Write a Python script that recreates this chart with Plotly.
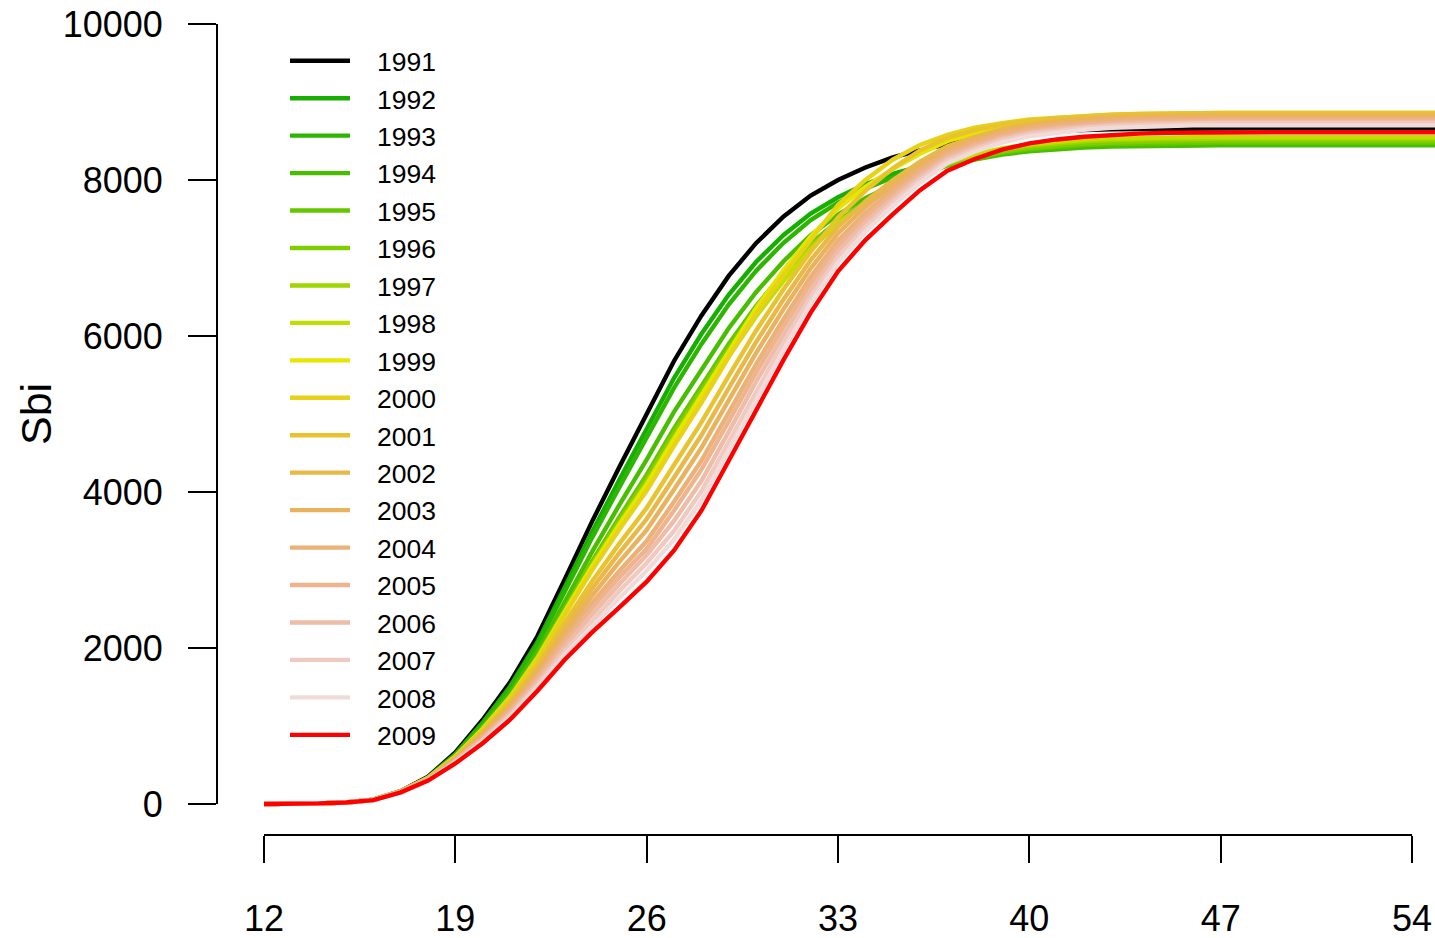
import plotly.graph_objects as go

weeks = [12, 13, 14, 15, 16, 17, 18, 19, 20, 21, 22, 23, 24, 25, 26, 27, 28, 29, 30, 31, 32, 33,
         34, 35, 36, 37, 38, 39, 40, 41, 42, 43, 44, 45, 46, 47, 48, 49, 50, 51, 52, 53, 54, 55]

years = ["1991", "1992", "1993", "1994", "1995", "1996", "1997", "1998", "1999", "2000",
         "2001", "2002", "2003", "2004", "2005", "2006", "2007", "2008", "2009"]

colors = ["#000000", "#16AE00", "#2DB600", "#47BE00", "#63C600", "#81CE00", "#A0D600", "#C2DE00",
          "#E6E600", "#E7D217", "#E8C32E", "#E9B846", "#EBB25E", "#ECB176", "#EDB48E", "#EEBCA7",
          "#F0C9C0", "#F1DBD9", "#FF0000"]

s1991 = [0, 2, 8, 20, 55, 165, 350, 660, 1080, 1560, 2150, 2880, 3620, 4320, 5000, 5680, 6260, 6770, 7190, 7530, 7800, 8000,
         8160, 8290, 8380, 8460, 8520, 8570, 8600, 8625, 8640, 8650, 8655, 8660, 8662, 8662, 8662, 8662, 8662, 8662, 8662, 8662, 8662, 8662]
s1992 = [0, 2, 8, 20, 54, 161, 340, 640, 1045, 1507, 2075, 2777, 3486, 4156, 4805, 5461, 6025, 6529, 6949, 7293, 7570, 7779,
         7945, 8080, 8176, 8261, 8323, 8375, 8406, 8432, 8447, 8458, 8463, 8468, 8470, 8470, 8470, 8470, 8470, 8470, 8470, 8470, 8470, 8470]
s1993 = [0, 2, 8, 20, 53, 160, 337, 632, 1028, 1481, 2038, 2722, 3412, 4063, 4692, 5335, 5895, 6403, 6835, 7192, 7486, 7710,
         7887, 8032, 8139, 8232, 8299, 8354, 8387, 8414, 8430, 8442, 8447, 8453, 8455, 8455, 8455, 8455, 8455, 8455, 8455, 8455, 8455, 8455]
s1994 = [0, 2, 8, 20, 53, 158, 331, 614, 990, 1420, 1948, 2590, 3233, 3835, 4415, 5027, 5576, 6100, 6561, 6956, 7292, 7558,
         7766, 7936, 8071, 8185, 8263, 8327, 8367, 8397, 8416, 8429, 8436, 8442, 8445, 8445, 8445, 8445, 8445, 8445, 8445, 8445, 8445, 8445]
s1995 = [0, 2, 8, 20, 52, 157, 328, 603, 965, 1379, 1889, 2501, 3111, 3678, 4223, 4815, 5358, 5896, 6384, 6808, 7180, 7479,
         7711, 7902, 8059, 8191, 8278, 8349, 8394, 8426, 8447, 8462, 8470, 8476, 8480, 8480, 8480, 8480, 8480, 8480, 8480, 8480, 8480, 8480]
s1996 = [0, 2, 8, 20, 52, 157, 327, 601, 959, 1369, 1873, 2477, 3078, 3635, 4170, 4756, 5298, 5841, 6337, 6771, 7153, 7464,
         7704, 7900, 8064, 8202, 8291, 8365, 8411, 8445, 8466, 8481, 8490, 8496, 8500, 8500, 8500, 8500, 8500, 8500, 8500, 8500, 8500, 8500]
s1997 = [0, 2, 8, 20, 52, 157, 327, 599, 953, 1360, 1859, 2456, 3048, 3596, 4121, 4702, 5244, 5793, 6297, 6742, 7136, 7457,
         7705, 7908, 8079, 8222, 8315, 8390, 8439, 8473, 8495, 8511, 8519, 8526, 8530, 8530, 8530, 8530, 8530, 8530, 8530, 8530, 8530, 8530]
s1998 = [0, 2, 8, 20, 52, 157, 326, 596, 947, 1349, 1843, 2432, 3014, 3552, 4067, 4642, 5184, 5737, 6250, 6704, 7109, 7441,
         7696, 7906, 8084, 8232, 8328, 8406, 8456, 8491, 8514, 8530, 8539, 8546, 8550, 8550, 8550, 8550, 8550, 8550, 8550, 8550, 8550, 8550]
s1999 = [0, 2, 8, 20, 54, 162, 335, 609, 964, 1370, 1871, 2462, 3045, 3583, 4095, 4678, 5234, 5812, 6355, 6839, 7275, 7635,
         7912, 8139, 8335, 8497, 8601, 8685, 8739, 8776, 8801, 8818, 8828, 8836, 8840, 8840, 8840, 8840, 8840, 8840, 8840, 8840, 8840, 8840]
s2000 = [0, 2, 8, 20, 54, 162, 333, 605, 954, 1354, 1846, 2426, 2995, 3519, 4016, 4591, 5144, 5729, 6283, 6781, 7232, 7680,
         8000, 8260, 8450, 8580, 8670, 8730, 8775, 8800, 8822, 8838, 8848, 8855, 8860, 8860, 8860, 8860, 8860, 8860, 8860, 8860, 8860, 8860]
s2001 = [0, 2, 8, 20, 53, 160, 328, 591, 924, 1306, 1776, 2322, 2853, 3338, 3796, 4346, 4892, 5489, 6068, 6596, 7082, 7520,
         7860, 8150, 8380, 8540, 8640, 8710, 8760, 8795, 8818, 8836, 8847, 8855, 8860, 8860, 8860, 8860, 8860, 8860, 8860, 8860, 8860, 8860]
s2002 = [0, 2, 8, 20, 53, 159, 325, 581, 903, 1273, 1728, 2253, 2760, 3220, 3653, 4187, 4727, 5330, 5922, 6466, 6973, 7400,
         7726, 7995, 8235, 8432, 8554, 8653, 8717, 8760, 8789, 8809, 8821, 8830, 8835, 8835, 8835, 8835, 8835, 8835, 8835, 8835, 8835, 8835]
s2003 = [0, 2, 8, 20, 53, 158, 321, 571, 883, 1241, 1682, 2185, 2669, 3105, 3513, 4031, 4565, 5174, 5780, 6341, 6867, 7314,
         7654, 7934, 8188, 8395, 8523, 8625, 8693, 8737, 8767, 8788, 8800, 8809, 8815, 8815, 8815, 8815, 8815, 8815, 8815, 8815, 8815, 8815]
s2004 = [0, 2, 8, 20, 52, 156, 317, 561, 862, 1209, 1635, 2117, 2577, 2988, 3371, 3874, 4401, 5017, 5636, 6213, 6758, 7225,
         7579, 7870, 8137, 8354, 8486, 8593, 8663, 8709, 8740, 8762, 8775, 8784, 8790, 8790, 8790, 8790, 8790, 8790, 8790, 8790, 8790, 8790]
s2005 = [0, 2, 8, 20, 52, 155, 314, 554, 847, 1185, 1601, 2068, 2512, 2906, 3272, 3763, 4286, 4904, 5531, 6118, 6676, 7154,
         7517, 7815, 8090, 8313, 8449, 8558, 8630, 8677, 8708, 8731, 8745, 8754, 8760, 8760, 8760, 8760, 8760, 8760, 8760, 8760, 8760, 8760]
s2006 = [0, 2, 8, 20, 51, 154, 311, 546, 831, 1158, 1563, 2012, 2430, 2820, 3190, 3630, 4140, 4770, 5412, 6013, 6587, 7080,
         7454, 7763, 8048, 8279, 8420, 8532, 8607, 8654, 8687, 8710, 8724, 8734, 8740, 8740, 8740, 8740, 8740, 8740, 8740, 8740, 8740, 8740]
s2007 = [0, 2, 8, 20, 51, 153, 308, 538, 814, 1133, 1525, 1957, 2350, 2730, 3090, 3500, 4010, 4645, 5297, 5911, 6501, 7011,
         7397, 7715, 8011, 8250, 8395, 8511, 8588, 8636, 8670, 8694, 8709, 8718, 8725, 8725, 8725, 8725, 8725, 8725, 8725, 8725, 8725, 8725]
s2008 = [0, 2, 8, 20, 51, 152, 305, 531, 800, 1110, 1493, 1910, 2285, 2640, 2990, 3390, 3895, 4535, 5196, 5821, 6423, 6945,
         7340, 7665, 7969, 8215, 8363, 8481, 8560, 8609, 8644, 8668, 8683, 8693, 8700, 8700, 8700, 8700, 8700, 8700, 8700, 8700, 8700, 8700]
s2009 = [0, 2, 8, 20, 50, 150, 300, 520, 780, 1080, 1450, 1850, 2200, 2520, 2850, 3250, 3760, 4400, 5060, 5690, 6300, 6830,
         7230, 7560, 7870, 8120, 8270, 8390, 8470, 8520, 8555, 8580, 8595, 8605, 8610, 8612, 8612, 8612, 8612, 8612, 8612, 8612, 8612, 8612]

series = [s1991, s1992, s1993, s1994, s1995, s1996, s1997, s1998, s1999, s2000,
          s2001, s2002, s2003, s2004, s2005, s2006, s2007, s2008, s2009]

x_ticks = [12, 19, 26, 33, 40, 47, 54]
y_ticks = [0, 2000, 4000, 6000, 8000, 10000]
y_label = "Sbi"

# page body margin is removed (post_script), so the figure fills the whole 1435x938 window
W, H = 1435, 938
SCR_L, SCR_B = 217, 835          # plot-area edges on screen
ML, MB = SCR_L, H - SCR_B
PW, PH = W - ML, H - MB
FONT = "Liberation Sans, Arial, Helvetica, sans-serif"


def px_x(sx):
    return (sx - SCR_L) / PW


def px_y(sy):
    return (SCR_B - sy) / PH


fig = go.Figure()
for name, col, vals in zip(years, colors, series):
    fig.add_trace(go.Scatter(x=weeks, y=vals, mode="lines", name="\u2002\u2004" + name,
                             line=dict(color=col, width=4.4)))

fig.update_layout(
    width=W, height=H,
    margin=dict(l=ML, r=0, t=0, b=MB, pad=0, autoexpand=False),
    paper_bgcolor="white", plot_bgcolor="white",
    font=dict(family=FONT, color="black"),
    showlegend=True,
    legend=dict(x=px_x(285), y=px_y(37),
                xanchor="left", yanchor="top", bgcolor="rgba(0,0,0,0)",
                font=dict(size=26.5, family=FONT), itemwidth=60,
                tracegroupgap=0, traceorder="normal"),
    xaxis=dict(range=[10.28, 54.84], tickvals=x_ticks, ticktext=[str(t) for t in x_ticks],
               ticks="outside", ticklen=27, tickwidth=2, tickcolor="black",
               showgrid=False, zeroline=False, showline=False, automargin=False,
               ticklabeloverflow="allow",
               tickfont=dict(size=36, family=FONT), ticklabelstandoff=25),
    yaxis=dict(range=[-397.4, 10307.7], tickvals=y_ticks, ticktext=[str(t) for t in y_ticks],
               ticks="outside", ticklen=28, tickwidth=2, tickcolor="black",
               showgrid=False, zeroline=False, showline=False, automargin=False,
               ticklabeloverflow="allow",
               tickfont=dict(size=36, family=FONT), ticklabelstandoff=18),
)

# R-style axis lines spanning only the tick range
fig.add_shape(type="line", xref="paper", yref="y", x0=0, x1=0, y0=y_ticks[0], y1=y_ticks[-1],
              line=dict(color="black", width=2))
fig.add_shape(type="line", xref="x", yref="paper", x0=x_ticks[0], x1=x_ticks[-1], y0=0, y1=0,
              line=dict(color="black", width=2))

fig.add_annotation(text=y_label, xref="paper", yref="paper", x=px_x(36), y=px_y(414),
                   xanchor="center", yanchor="middle", textangle=-90, showarrow=False,
                   font=dict(size=43, family=FONT))

fig.write_html("out.html", config={"displayModeBar": False},
               post_script="document.body.style.margin='0px';")
